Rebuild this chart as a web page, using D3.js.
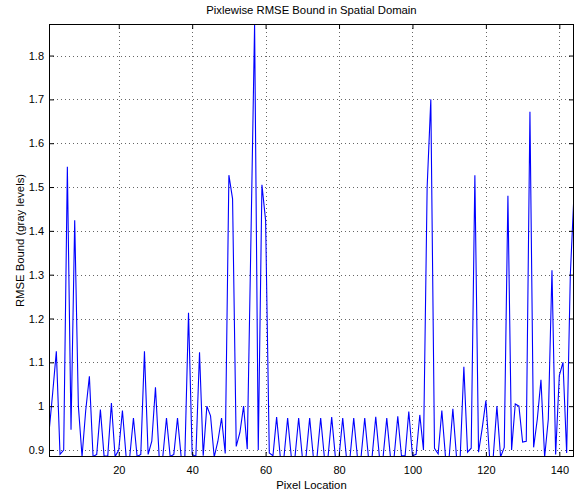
<!DOCTYPE html>
<html>
<head>
<meta charset="utf-8">
<script src="https://cdn.jsdelivr.net/npm/d3@7"></script>
<style>
  html, body { margin: 0; padding: 0; background: #fff; }
  svg { display: block; font-family: "Liberation Sans", Arial, Helvetica, sans-serif; }
</style>
</head>
<body>
<svg id="chart" width="579" height="494"></svg>
<script>
// Pixel index along the scan line
const pixels = d3.range(1, 145);

// RMSE bound (gray levels) at each pixel location
const rmseBound = [
  0.94, 1.03, 1.125, 0.89, 0.90, 1.546, 0.946, 1.424, 1.00, 0.885,
  0.99, 1.068, 0.885, 0.89, 0.992, 0.886, 0.886, 1.007, 0.885, 0.90,
  0.99, 0.885, 0.885, 0.973, 0.885, 0.89, 1.125, 0.89, 0.92, 1.043,
  0.885, 0.885, 0.973, 0.885, 0.89, 0.973, 0.884, 0.884, 1.213, 0.89,
  0.885, 1.123, 0.887, 1.00, 0.978, 0.884, 0.92, 0.973, 0.892, 1.527,
  1.473, 0.908, 0.94, 1.00, 0.902, 1.38, 1.872, 0.90, 1.505, 1.424,
  0.893, 0.887, 0.975, 0.884, 0.884, 0.973, 0.884, 0.884, 0.973, 0.884,
  0.884, 0.973, 0.884, 0.884, 0.973, 0.884, 0.884, 0.975, 0.884, 0.884,
  0.973, 0.884, 0.884, 0.973, 0.884, 0.884, 0.973, 0.884, 0.884, 0.976,
  0.884, 0.884, 0.973, 0.884, 0.884, 0.977, 0.887, 0.887, 0.988, 0.887,
  0.89, 0.98, 0.90, 1.50, 1.70, 0.904, 0.891, 0.99, 0.884, 0.884,
  0.994, 0.884, 0.884, 1.09, 0.895, 0.904, 1.527, 0.895, 0.95, 1.013,
  0.884, 0.884, 1.00, 0.884, 0.906, 1.48, 0.90, 1.005, 1.00, 0.918,
  0.92, 1.672, 0.906, 0.97, 1.06, 0.884, 0.97, 1.31, 0.89, 1.07,
  1.10, 0.893, 1.30, 1.485
];

const xTicks = [20, 40, 60, 80, 100, 120, 140];
const yTicks = [0.9, 1.0, 1.1, 1.2, 1.3, 1.4, 1.5, 1.6, 1.7, 1.8];

const titleText = "Pixlewise RMSE Bound in Spatial Domain";
const xLabel = "Pixel Location";
const yLabel = "RMSE Bound (gray levels)";

const margin = { top: 24, right: 5, bottom: 37, left: 49 };
const width = 579, height = 494;
const innerW = width - margin.left - margin.right;
const innerH = height - margin.top - margin.bottom;

const svg = d3.select("#chart");
const g = svg.append("g").attr("transform", `translate(${margin.left},${margin.top})`);

const x = d3.scaleLinear().domain([1, 144]).range([0, innerW]);
const y = d3.scaleLinear().domain([0.884, 1.872]).range([innerH, 0]);

const fmt = d => (Math.abs(d - 1) < 1e-9 ? "1" : d3.format(".1f")(d));

// dotted grid
g.append("g").selectAll("line").data(xTicks).join("line")
  .attr("x1", d => Math.round(x(d)) + 0.5).attr("x2", d => Math.round(x(d)) + 0.5)
  .attr("y1", 0).attr("y2", innerH)
  .attr("stroke", "#666").attr("stroke-width", 1).attr("stroke-dasharray", "1,3");
g.append("g").selectAll("line").data(yTicks).join("line")
  .attr("y1", d => Math.round(y(d)) + 0.5).attr("y2", d => Math.round(y(d)) + 0.5)
  .attr("x1", 0).attr("x2", innerW)
  .attr("stroke", "#666").attr("stroke-width", 1).attr("stroke-dasharray", "1,3");

// clip the series to the axes box
svg.append("defs").append("clipPath").attr("id", "plotClip")
  .append("rect").attr("width", innerW).attr("height", innerH);

const line = d3.line().x((d, i) => x(pixels[i])).y(d => y(d));
g.append("path")
  .datum(rmseBound)
  .attr("clip-path", "url(#plotClip)")
  .attr("fill", "none")
  .attr("stroke", "#0000ff")
  .attr("stroke-width", 1.1)
  .attr("stroke-linejoin", "miter")
  .attr("d", line);

// axes: ticks point inward, mirrored on top and right
const tickLen = 5;
const xAxisB = d3.axisBottom(x).tickValues(xTicks).tickSizeInner(-tickLen).tickSizeOuter(0).tickPadding(9);
const xAxisT = d3.axisTop(x).tickValues(xTicks).tickSizeInner(-tickLen).tickSizeOuter(0).tickFormat("");
const yAxisL = d3.axisLeft(y).tickValues(yTicks).tickSizeInner(-tickLen).tickSizeOuter(0).tickPadding(5).tickFormat(fmt);
const yAxisR = d3.axisRight(y).tickValues(yTicks).tickSizeInner(-tickLen).tickSizeOuter(0).tickFormat("");

function styleAxis(sel) {
  sel.select(".domain").remove();
  sel.selectAll(".tick line").attr("stroke", "#000").attr("stroke-width", 1);
  sel.selectAll(".tick text").attr("fill", "#000").attr("font-size", 11)
    .attr("font-family", "'Liberation Sans', Arial, sans-serif");
}
g.append("g").attr("transform", `translate(0,${innerH})`).call(xAxisB).call(styleAxis);
g.append("g").call(xAxisT).call(styleAxis);
g.append("g").call(yAxisL).call(styleAxis);
g.append("g").attr("transform", `translate(${innerW},0)`).call(yAxisR).call(styleAxis);

// box
g.append("rect").attr("x", 0.5).attr("y", 0.5).attr("width", innerW - 1).attr("height", innerH - 1)
  .attr("fill", "none").attr("stroke", "#000").attr("stroke-width", 1);

// labels
svg.append("text").attr("x", margin.left + innerW / 2).attr("y", 14)
  .attr("text-anchor", "middle").attr("font-size", 11.3).text(titleText);
svg.append("text").attr("x", margin.left + innerW / 2).attr("y", 489)
  .attr("text-anchor", "middle").attr("font-size", 11.3).text(xLabel);
svg.append("text")
  .attr("transform", `translate(24,${margin.top + innerH / 2}) rotate(-90)`)
  .attr("text-anchor", "middle").attr("font-size", 11.3).text(yLabel);
</script>
</body>
</html>
